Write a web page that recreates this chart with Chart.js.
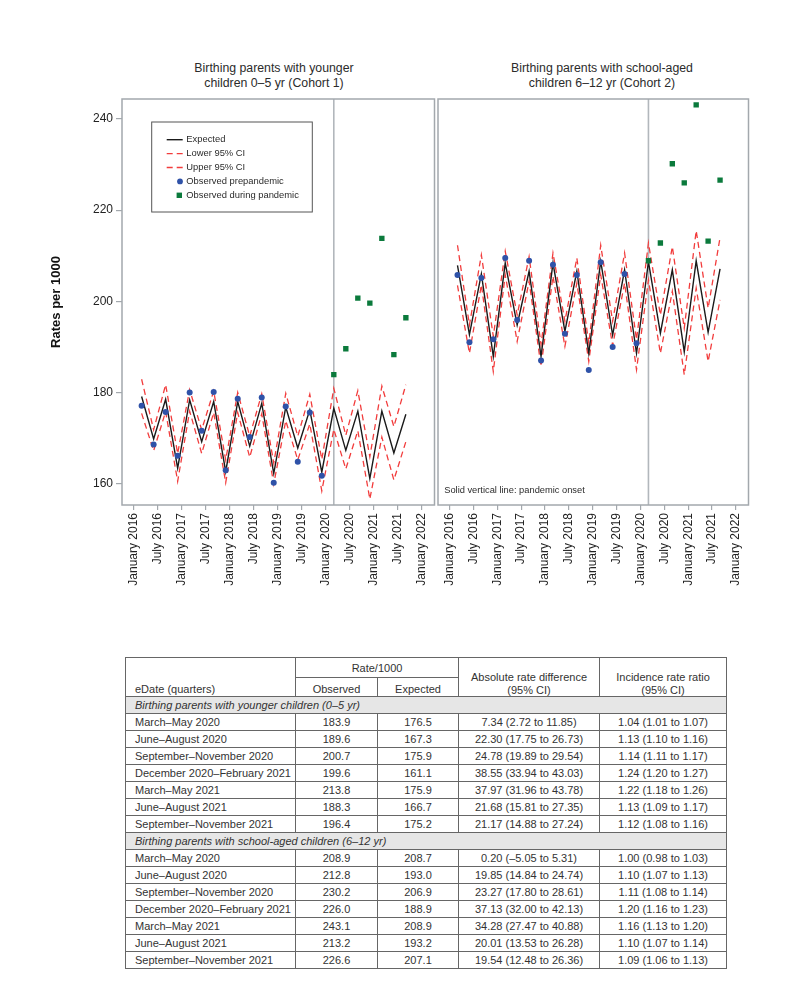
<!DOCTYPE html>
<html>
<head>
<meta charset="utf-8">
<script src="https://cdn.jsdelivr.net/npm/chart.js@4.4.1/dist/chart.umd.min.js"></script>
<style>
html,body{margin:0;padding:0;background:#fff;}
#wrap{position:relative;width:791px;height:1006px;overflow:hidden;font-family:"Liberation Sans",Arial,Helvetica,sans-serif;color:#2b2b2b;}
.ptitle{position:absolute;top:61px;width:320px;text-align:center;font-size:12.3px;line-height:15px;color:#2b2b2b;}
#c1{position:absolute;left:0;top:0;}
#c2{position:absolute;left:434px;top:0;}
#tbl{position:absolute;left:125px;top:657px;border-collapse:collapse;table-layout:fixed;width:601px;font-size:11px;color:#333;}
#tbl td{border:1px solid #666;padding:0 4px;height:16px;line-height:16px;text-align:center;vertical-align:middle;white-space:nowrap;overflow:hidden;}
#tbl td.l{text-align:left;padding-left:9px;}
#tbl tr.h1 td{height:19px;}
#tbl tr.h2 td{height:18px;line-height:14px;vertical-align:bottom;}
#tbl td.bot{vertical-align:bottom;line-height:14px;}
#tbl td.two{vertical-align:bottom;line-height:12.5px;}
#tbl tr.sec td{background:#e6e6e6;font-style:italic;text-align:left;padding-left:9px;}
</style>
</head>
<body>
<div id="wrap">
  <div class="ptitle" style="left:114px;">Birthing parents with younger<br>children 0–5 yr (Cohort 1)</div>
  <div class="ptitle" style="left:442px;">Birthing parents with school-aged<br>children 6–12 yr (Cohort 2)</div>
  <canvas id="c1" width="440" height="600"></canvas>
  <canvas id="c2" width="320" height="600"></canvas>
  <table id="tbl">
    <colgroup><col style="width:170px"><col style="width:82px"><col style="width:81px"><col style="width:141px"><col style="width:127px"></colgroup>
    <tbody id="tb"></tbody>
  </table>
</div>
<script>
// ---------- DATA ----------
// quarter start months, counted from January 2016 (= 0): March 2016 ... September 2021
const quarterMonths = [2,5,8,11,14,17,20,23,26,29,32,35,38,41,44,47,50,53,56,59,62,65,68];
const nPrepandemic = 16;
const pandemicOnsetMonth = 50; // March 2020
const tickMonths = [0,6,12,18,24,30,36,42,48,54,60,66,72];
const tickLabels = ["January 2016","July 2016","January 2017","July 2017","January 2018","July 2018",
  "January 2019","July 2019","January 2020","July 2020","January 2021","July 2021","January 2022"];
const yTicks = [160,180,200,220,240];

// Cohort 1: younger children 0-5 yr
const expected1 = [179.1,169.8,178.5,163.4,178.4,169.2,178.0,162.6,178.0,168.2,177.6,162.2,176.8,167.8,176.2,162.5,176.5,167.3,175.9,161.1,175.9,166.7,175.2];
const lower1    = [175.4,167.2,175.8,160.5,175.9,166.6,175.6,160.2,175.6,165.8,175.3,159.9,173.8,165.2,173.1,158.4,171.9,163.2,171.6,156.6,170.2,160.8,169.2];
const upper1    = [182.9,171.8,181.7,166.6,180.6,171.8,180.3,165.2,180.0,170.4,179.7,164.5,179.8,170.4,179.6,165.3,180.9,170.6,180.4,165.9,181.4,172.5,181.7];
const obsPre1   = [177.1,168.6,175.7,166.1,180.0,171.6,180.1,162.9,178.6,170.2,178.9,160.2,176.9,164.8,175.6,161.7];
const obsPan1   = [183.9,189.6,200.7,199.6,213.8,188.3,196.4];

// Cohort 2: school-aged children 6-12 yr
const expected2 = [207.9,192.7,206.0,187.9,208.4,194.8,206.6,187.9,208.4,193.4,206.6,188.6,208.8,192.6,206.9,188.6,208.7,193.0,206.9,188.9,208.9,193.2,207.1];
const lower2    = [203.5,188.6,203.6,184.6,205.8,191.2,204.4,185.7,205.5,190.1,204.0,186.8,205.8,190.3,204.0,185.0,204.7,188.6,202.2,183.9,202.9,186.8,200.3];
const upper2    = [212.3,194.8,210.2,192.3,211.0,197.0,209.8,190.5,210.6,195.6,209.5,190.8,212.3,195.6,210.6,191.6,212.8,197.0,212.0,194.1,215.5,198.5,214.0];
const obsPre2   = [205.8,191.0,205.1,191.7,209.5,195.9,208.9,187.0,208.0,192.9,205.8,184.9,208.6,190.0,206.0,190.8];
const obsPan2   = [208.9,212.8,230.2,226.0,243.1,213.2,226.6];

// Table
const quarterNames = ["March–May 2020","June–August 2020","September–November 2020","December 2020–February 2021",
  "March–May 2021","June–August 2021","September–November 2021"];
const absDiff1 = ["7.34 (2.72 to 11.85)","22.30 (17.75 to 26.73)","24.78 (19.89 to 29.54)","38.55 (33.94 to 43.03)",
  "37.97 (31.96 to 43.78)","21.68 (15.81 to 27.35)","21.17 (14.88 to 27.24)"];
const irr1 = ["1.04 (1.01 to 1.07)","1.13 (1.10 to 1.16)","1.14 (1.11 to 1.17)","1.24 (1.20 to 1.27)",
  "1.22 (1.18 to 1.26)","1.13 (1.09 to 1.17)","1.12 (1.08 to 1.16)"];
const absDiff2 = ["0.20 (–5.05 to 5.31)","19.85 (14.84 to 24.74)","23.27 (17.80 to 28.61)","37.13 (32.00 to 42.13)",
  "34.28 (27.47 to 40.88)","20.01 (13.53 to 26.28)","19.54 (12.48 to 26.36)"];
const irr2 = ["1.00 (0.98 to 1.03)","1.10 (1.07 to 1.13)","1.11 (1.08 to 1.14)","1.20 (1.16 to 1.23)",
  "1.16 (1.13 to 1.20)","1.10 (1.07 to 1.14)","1.09 (1.06 to 1.13)"];

// ---------- CHARTS ----------
const FONT = '"Liberation Sans", Arial, Helvetica, sans-serif';
const AXIS_GRAY = '#a3a8ad';
const RED = '#f23c3c';
const BLUE = '#2f52a8';
const GREEN = '#0b7a3c';

function pts(xs, ys){ return ys.map((y,i)=>({x:xs[i], y:y})); }

const framePlugin = {
  id:'frame',
  beforeDatasetsDraw(chart){
    const {ctx, chartArea:a, scales} = chart;
    const px = scales.x.getPixelForValue(pandemicOnsetMonth);
    ctx.save();
    ctx.strokeStyle = '#b2b7bc'; ctx.lineWidth = 1.6;
    ctx.beginPath(); ctx.moveTo(px, a.top); ctx.lineTo(px, a.bottom); ctx.stroke();
    ctx.restore();
  },
  afterDraw(chart){
    const {ctx, chartArea:a} = chart;
    ctx.save();
    ctx.strokeStyle = AXIS_GRAY; ctx.lineWidth = 1.5;
    ctx.strokeRect(a.left, a.top, a.right - a.left, a.bottom - a.top);
    ctx.restore();
  }
};

const legendPlugin = {
  id:'insideLegend',
  afterDraw(chart){
    const {ctx, chartArea:a} = chart;
    const bx = a.left + 29.7, by = a.top + 23, bw = 160.6, bh = 90;
    ctx.save();
    ctx.strokeStyle = '#555'; ctx.lineWidth = 1;
    ctx.strokeRect(bx, by, bw, bh);
    const items = [
      {t:'Expected', k:'line'},
      {t:'Lower 95% CI', k:'dash'},
      {t:'Upper 95% CI', k:'dash'},
      {t:'Observed prepandemic', k:'circle'},
      {t:'Observed during pandemic', k:'square'}
    ];
    ctx.font = '9.4px ' + FONT;
    ctx.textBaseline = 'middle';
    ctx.fillStyle = '#2b2b2b';
    items.forEach((it,i)=>{
      const y = by + 17.7 + i*13.9;
      const x0 = bx + 15, x1 = bx + 31;
      if (it.k === 'line'){
        ctx.strokeStyle = '#1a1a1a'; ctx.lineWidth = 1.4; ctx.setLineDash([]);
        ctx.beginPath(); ctx.moveTo(x0,y); ctx.lineTo(x1,y); ctx.stroke();
      } else if (it.k === 'dash'){
        ctx.strokeStyle = RED; ctx.lineWidth = 1.3; ctx.setLineDash([6,4]);
        ctx.beginPath(); ctx.moveTo(x0,y); ctx.lineTo(x1,y); ctx.stroke();
        ctx.setLineDash([]);
      } else if (it.k === 'circle'){
        ctx.fillStyle = BLUE; ctx.beginPath(); ctx.arc(bx+28.3, y, 2.9, 0, Math.PI*2); ctx.fill();
      } else {
        ctx.fillStyle = GREEN; ctx.fillRect(bx+27.6-2.7, y-2.7, 5.4, 5.4);
      }
      ctx.fillStyle = '#2b2b2b';
      ctx.fillText(it.t, bx + 34.6, y);
    });
    ctx.restore();
  }
};

const notePlugin = {
  id:'note',
  afterDraw(chart){
    const {ctx, chartArea:a} = chart;
    ctx.save();
    ctx.font = '9.3px ' + FONT;
    ctx.fillStyle = '#2b2b2b';
    ctx.textBaseline = 'middle';
    ctx.fillText('Solid vertical line: pandemic onset', a.left + 6.2, a.bottom - 14.3);
    ctx.restore();
  }
};

function makeChart(canvasId, exp, lo, up, obsPre, obsPan, isLeft){
  const preMonths = quarterMonths.slice(0, nPrepandemic);
  const panMonths = quarterMonths.slice(nPrepandemic);
  const datasets = [
    {label:'Observed prepandemic', type:'scatter', data:pts(preMonths, obsPre), showLine:false,
     pointStyle:'circle', pointRadius:3, backgroundColor:BLUE, borderColor:BLUE, borderWidth:0, order:0},
    {label:'Observed during pandemic', type:'scatter', data:pts(panMonths, obsPan), showLine:false,
     pointStyle:'rect', pointRadius:3.8, backgroundColor:GREEN, borderColor:GREEN, borderWidth:0, order:0},
    {label:'Expected', type:'line', data:pts(quarterMonths, exp), borderColor:'#1a1a1a', borderWidth:1.4,
     pointRadius:0, fill:false, tension:0, order:2},
    {label:'Lower 95% CI', type:'line', data:pts(quarterMonths, lo), borderColor:RED, borderWidth:1.3,
     borderDash:[6,4], pointRadius:0, fill:false, tension:0, order:3},
    {label:'Upper 95% CI', type:'line', data:pts(quarterMonths, up), borderColor:RED, borderWidth:1.3,
     borderDash:[6,4], pointRadius:0, fill:false, tension:0, order:3}
  ];
  const plugins = [framePlugin];
  if (isLeft) plugins.push(legendPlugin); else plugins.push(notePlugin);
  return new Chart(document.getElementById(canvasId), {
    type:'line',
    data:{datasets},
    plugins,
    options:{
      responsive:false, animation:false, devicePixelRatio: window.devicePixelRatio || 1,
      layout:{padding:{left: isLeft ? 0 : 1.5, right:5.5, top:99, bottom:0}},
      plugins:{legend:{display:false}, tooltip:{enabled:false}, title:{display:false}},
      scales:{
        x:{
          type:'linear', min:-2.9, max:75.15,
          afterBuildTicks:(s)=>{ s.ticks = tickMonths.map(v=>({value:v})); },
          afterFit:(s)=>{ s.height = 95; },
          ticks:{autoSkip:false, maxRotation:90, minRotation:90, padding:3, color:'#222',
                 font:{family:FONT, size:12}, callback:(v,i)=>tickLabels[i]},
          grid:{drawOnChartArea:false, drawTicks:true, tickLength:5, color:AXIS_GRAY, tickColor:AXIS_GRAY, lineWidth:1.2},
          border:{display:false}
        },
        y:{
          type:'linear', display:isLeft, min:155.3, max:244.4,
          afterBuildTicks:(s)=>{ s.ticks = yTicks.map(v=>({value:v})); },
          afterFit:(s)=>{ s.width = isLeft ? 122 : 0; },
          ticks:{padding:3, color:'#222', font:{family:FONT, size:12}, callback:(v)=>String(v)},
          grid:{drawOnChartArea:false, drawTicks:true, tickLength:6, color:AXIS_GRAY, tickColor:AXIS_GRAY, lineWidth:1.2},
          border:{display:false},
          title:{display:true, text:'Rates per 1000', color:'#111',
                 font:{family:FONT, size:13, weight:'bold'}, padding:{top:48.2, bottom:0}}
        }
      }
    }
  });
}

makeChart('c1', expected1, lower1, upper1, obsPre1, obsPan1, true);
makeChart('c2', expected2, lower2, upper2, obsPre2, obsPan2, false);

// ---------- TABLE ----------
const tb = document.getElementById('tb');
let html = '';
html += '<tr class="h1"><td rowspan="2" class="l bot">eDate (quarters)</td><td colspan="2">Rate/1000</td>' +
        '<td rowspan="2" class="two">Absolute rate difference<br>(95% CI)</td>' +
        '<td rowspan="2" class="two">Incidence rate ratio<br>(95% CI)</td></tr>';
html += '<tr class="h2"><td>Observed</td><td>Expected</td></tr>';
function group(title, obs, exp, diff, irr){
  let s = '<tr class="sec"><td colspan="5">' + title + '</td></tr>';
  quarterNames.forEach((q,i)=>{
    s += '<tr><td class="l">' + q + '</td><td>' + obs[i].toFixed(1) + '</td><td>' +
         exp[nPrepandemic + i].toFixed(1) + '</td><td>' + diff[i] + '</td><td>' + irr[i] + '</td></tr>';
  });
  return s;
}
html += group('Birthing parents with younger children (0–5 yr)', obsPan1, expected1, absDiff1, irr1);
html += group('Birthing parents with school-aged children (6–12 yr)', obsPan2, expected2, absDiff2, irr2);
tb.innerHTML = html;
</script>
</body>
</html>
